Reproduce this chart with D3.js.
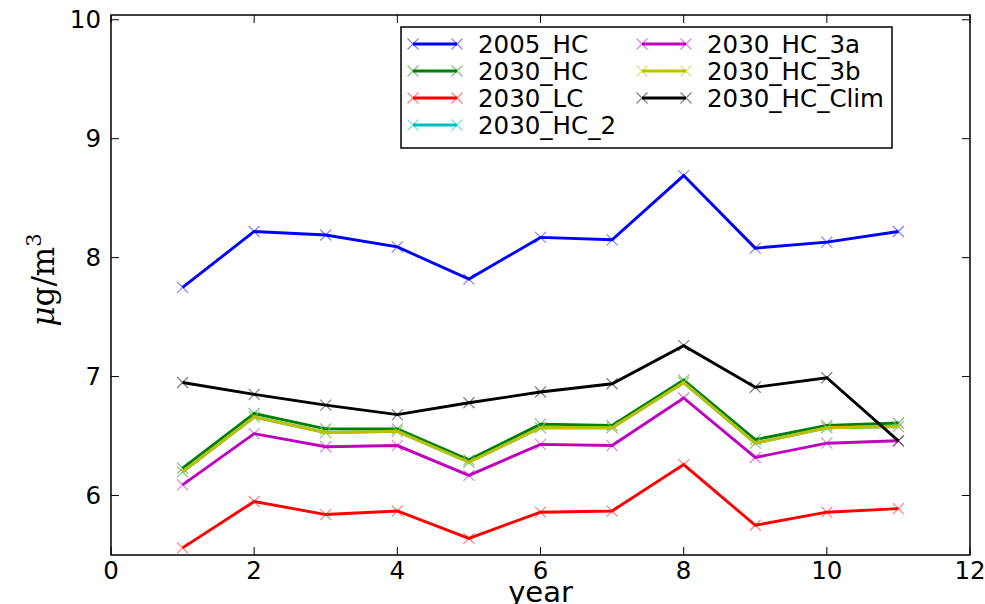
<!DOCTYPE html>
<html>
<head>
<meta charset="utf-8">
<script src="https://cdn.jsdelivr.net/npm/d3@7"></script>
<style>
  body { margin: 0; background: #fff; }
  text { font-family: "DejaVu Sans", sans-serif; }
</style>
</head>
<body>
<script>
// data
var years = [1, 2, 3, 4, 5, 6, 7, 8, 9, 10, 11];
var seriesNames = ["2005_HC", "2030_HC", "2030_LC", "2030_HC_2", "2030_HC_3a", "2030_HC_3b", "2030_HC_Clim"];
var seriesColors = ["#0000ff", "#008000", "#ff0000", "#00bfbf", "#bf00bf", "#bfbf00", "#000000"];
var hc2005 = [7.75, 8.22, 8.19, 8.09, 7.82, 8.17, 8.15, 8.69, 8.08, 8.13, 8.22];
var hc2030 = [6.23, 6.69, 6.56, 6.56, 6.30, 6.60, 6.59, 6.97, 6.47, 6.59, 6.61];
var lc2030 = [5.56, 5.95, 5.84, 5.87, 5.64, 5.86, 5.87, 6.26, 5.75, 5.86, 5.89];
var hc2030_2 = [6.20, 6.66, 6.53, 6.54, 6.28, 6.57, 6.57, 6.95, 6.44, 6.57, 6.58];
var hc2030_3a = [6.09, 6.52, 6.41, 6.42, 6.17, 6.43, 6.42, 6.82, 6.32, 6.44, 6.46];
var hc2030_3b = [6.20, 6.66, 6.53, 6.54, 6.28, 6.57, 6.57, 6.95, 6.44, 6.57, 6.58];
var hc2030_clim = [6.95, 6.85, 6.76, 6.68, 6.78, 6.87, 6.94, 7.26, 6.91, 6.99, 6.46];
var seriesValues = [hc2005, hc2030, lc2030, hc2030_2, hc2030_3a, hc2030_3b, hc2030_clim];
var xTicks = [0, 2, 4, 6, 8, 10, 12];
var yTicks = [6, 7, 8, 9, 10];

var width = 985, height = 604;
var margin = { top: 15, right: 15, bottom: 49, left: 111 };

var svg = d3.select("body").append("svg")
    .attr("width", width)
    .attr("height", height);

var x = d3.scaleLinear().domain([0, 12]).range([margin.left, width - margin.right]);
var y = d3.scaleLinear().domain([5.5, 10.04]).range([height - margin.bottom, margin.top]);

var x0 = x.range()[0], x1 = x.range()[1];
var yB = y.range()[0], yT = y.range()[1];
var tickLen = 8;

// ticks pointing inwards on all four sides
var g = svg.append("g").attr("stroke", "#000").attr("stroke-width", 1);
xTicks.forEach(function (t) {
    g.append("line").attr("x1", x(t)).attr("x2", x(t)).attr("y1", yB).attr("y2", yB - tickLen);
    g.append("line").attr("x1", x(t)).attr("x2", x(t)).attr("y1", yT).attr("y2", yT + tickLen);
});
yTicks.forEach(function (t) {
    g.append("line").attr("x1", x0).attr("x2", x0 + tickLen).attr("y1", y(t)).attr("y2", y(t));
    g.append("line").attr("x1", x1).attr("x2", x1 - tickLen).attr("y1", y(t)).attr("y2", y(t));
});

// tick labels
svg.selectAll("text.xt").data(xTicks).enter().append("text")
    .attr("class", "xt")
    .attr("x", function (d) { return x(d); })
    .attr("y", yB + 24)
    .attr("text-anchor", "middle")
    .style("font-size", "24.5px")
    .text(function (d) { return d; });

svg.selectAll("text.yt").data(yTicks).enter().append("text")
    .attr("class", "yt")
    .attr("x", x0 - 10)
    .attr("y", function (d) { return y(d) + 8.5; })
    .attr("text-anchor", "end")
    .style("font-size", "24.5px")
    .text(function (d) { return d; });

// axis labels
svg.append("text")
    .attr("x", (x0 + x1) / 2)
    .attr("y", 602)
    .attr("text-anchor", "middle")
    .style("font-size", "29px")
    .text("year");

var ylab = svg.append("text")
    .attr("transform", "translate(54,280) rotate(-90)")
    .attr("text-anchor", "middle")
    .style("font-family", "'DejaVu Serif', serif")
    .style("font-size", "31px");
ylab.append("tspan").style("font-style", "italic").text("μ");
ylab.append("tspan").text("g/m");
ylab.append("tspan").attr("dy", -13).style("font-size", "21px").text("3");

// lines
var line = d3.line()
    .x(function (d, i) { return x(years[i]); })
    .y(function (d) { return y(d); });

function cross(sel, cx, cy, color) {
    var s = 5.5;
    sel.append("path")
        .attr("d", "M" + (cx - s) + "," + (cy - s) + "L" + (cx + s) + "," + (cy + s) +
            "M" + (cx - s) + "," + (cy + s) + "L" + (cx + s) + "," + (cy - s))
        .attr("stroke", color)
        .attr("stroke-opacity", 0.5)
        .attr("stroke-width", 1.2)
        .attr("fill", "none");
}

var plot = svg.append("g");
seriesValues.forEach(function (vals, k) {
    var c = seriesColors[k];
    plot.append("path")
        .datum(vals)
        .attr("d", line)
        .attr("fill", "none")
        .attr("stroke", c)
        .attr("stroke-width", 2.9)
        .attr("stroke-linejoin", "miter");
    vals.forEach(function (v, i) { cross(plot, x(years[i]), y(v), c); });
});

// frame
svg.append("rect")
    .attr("x", x0).attr("y", yT)
    .attr("width", x1 - x0).attr("height", yB - yT)
    .attr("fill", "none")
    .attr("stroke", "#000")
    .attr("stroke-width", 1.5);

// legend
var leg = svg.append("g");
leg.append("rect")
    .attr("x", 401).attr("y", 27)
    .attr("width", 491).attr("height", 121)
    .attr("fill", "#fff")
    .attr("stroke", "#000")
    .attr("stroke-width", 1.5);

var rowH = 27;
seriesNames.forEach(function (name, k) {
    var col = k < 4 ? 0 : 1;
    var row = k < 4 ? k : k - 4;
    var lx = col === 0 ? 413 : 642;
    var ly = 44 + row * rowH;
    var c = seriesColors[k];
    leg.append("line")
        .attr("x1", lx).attr("x2", lx + 44)
        .attr("y1", ly).attr("y2", ly)
        .attr("stroke", c)
        .attr("stroke-width", 2.9);
    cross(leg, lx, ly, c);
    cross(leg, lx + 44, ly, c);
    leg.append("text")
        .attr("x", lx + 65)
        .attr("y", ly + 8.5)
        .style("font-size", "24.5px")
        .text(name);
});
</script>
</body>
</html>
